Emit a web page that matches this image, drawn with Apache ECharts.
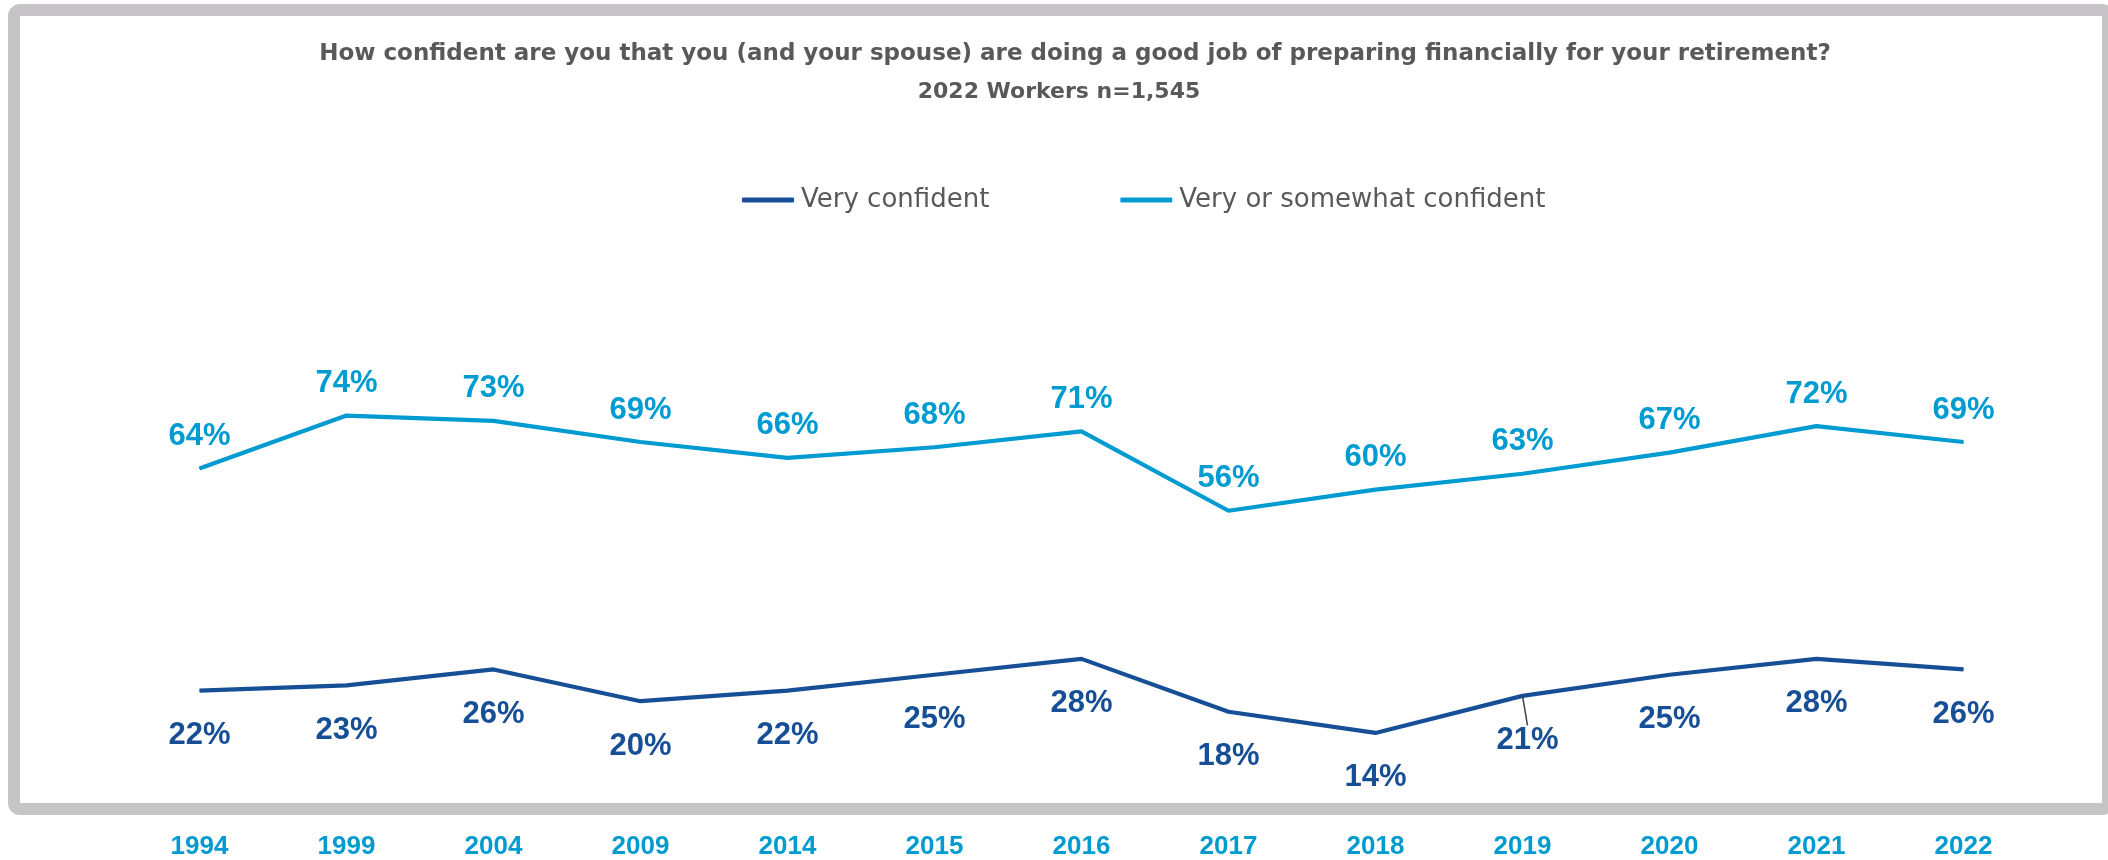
<!DOCTYPE html>
<html>
<head>
<meta charset="utf-8">
<title>Retirement confidence</title>
<script src="https://cdn.jsdelivr.net/npm/echarts@6/dist/echarts.min.js"></script>
<style>
  html, body { margin: 0; padding: 0; background: #ffffff; }
  #chart { width: 2108px; height: 860px; }
</style>
</head>
<body>
<div id="chart"></div>
<script>
// Survey years and the share of workers in each confidence group (%)
const years = ['1994', '1999', '2004', '2009', '2014', '2015', '2016', '2017', '2018', '2019', '2020', '2021', '2022'];
const veryConfident = [22, 23, 26, 20, 22, 25, 28, 18, 14, 21, 25, 28, 26];
const veryOrSomewhatConfident = [64, 74, 73, 69, 66, 68, 71, 56, 60, 63, 67, 72, 69];

const seriesNames = ['Very confident', 'Very or somewhat confident'];
const titleLines = [
  'How confident are you that you (and your spouse) are doing a good job of preparing financially for your retirement?',
  '2022 Workers n=1,545'
];

const DARK = '#174F96';
const LIGHT = '#009BD1';
const GREY_TEXT = '#595959';
const FRAME = '#C6C4C7';

// 2019 label sits slightly to the right with a short leader line
const darkData = veryConfident.map((v, i) => i === 9
  ? { value: v, labelLine: { show: true, lineStyle: { color: '#404040', width: 1.5 } } }
  : v);

const chart = echarts.init(document.getElementById('chart'), null, { renderer: 'canvas' });

chart.setOption({
  backgroundColor: '#ffffff',
  animation: false,
  title: [
    {
      text: titleLines[0],
      left: 1070, top: 38, textAlign: 'center',
      textStyle: { fontFamily: 'DejaVu Sans', fontWeight: 'bold', fontSize: 23, color: GREY_TEXT }
    },
    {
      text: titleLines[1],
      left: 1054, top: 76, textAlign: 'center',
      textStyle: { fontFamily: 'DejaVu Sans', fontWeight: 'bold', fontSize: 22, color: GREY_TEXT }
    }
  ],
  legend: {
    left: 737, top: 182,
    itemWidth: 52, itemHeight: 5, itemGap: 131,
    icon: 'roundRect',
    textStyle: { fontFamily: 'DejaVu Sans', fontSize: 26, color: GREY_TEXT, padding: [0, 0, 0, 2] },
    data: seriesNames
  },
  graphic: [
    {
      type: 'rect', silent: true, z: -10,
      shape: { x: 14, y: 10, width: 2094, height: 799, r: 6 },
      style: { fill: 'none', stroke: FRAME, lineWidth: 12 }
    }
  ],
  grid: { left: 126, right: 71, top: 278, bottom: 47, containLabel: false },
  xAxis: {
    type: 'category',
    data: years,
    boundaryGap: true,
    axisLine: { show: false },
    axisTick: { show: false },
    axisLabel: {
      margin: 27,
      fontFamily: 'Liberation Sans', fontWeight: 'bold', fontSize: 26, color: LIGHT
    }
  },
  yAxis: {
    type: 'value', min: 0, max: 100, interval: 20,
    show: false
  },
  series: [
    {
      name: seriesNames[0],
      type: 'line',
      data: darkData,
      symbol: 'circle', symbolSize: 1,
      itemStyle: { color: DARK },
      lineStyle: { color: DARK, width: 4.2 },
      label: {
        show: true, position: 'bottom', distance: 29,
        formatter: '{c}%',
        fontFamily: 'Liberation Sans', fontWeight: 'bold', fontSize: 31, color: DARK
      },
      labelLayout: (params) => params.dataIndex === 9 ? { dx: 5 } : {}
    },
    {
      name: seriesNames[1],
      type: 'line',
      data: veryOrSomewhatConfident,
      symbol: 'circle', symbolSize: 1,
      itemStyle: { color: LIGHT },
      lineStyle: { color: LIGHT, width: 4.2 },
      label: {
        show: true, position: 'top', distance: 16,
        formatter: '{c}%',
        fontFamily: 'Liberation Sans', fontWeight: 'bold', fontSize: 31, color: LIGHT
      }
    }
  ]
});
</script>
</body>
</html>
